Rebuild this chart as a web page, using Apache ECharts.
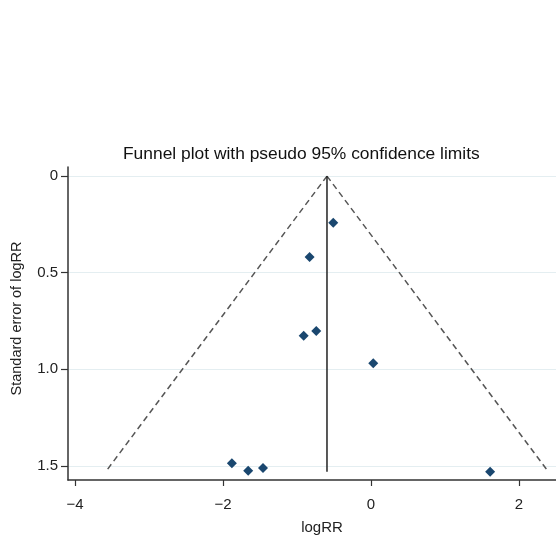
<!DOCTYPE html>
<html>
<head>
<meta charset="utf-8">
<script src="https://cdn.jsdelivr.net/npm/echarts@6/dist/echarts.min.js"></script>
<style>
  html, body { margin: 0; padding: 0; background: #fff; }
  #chart { width: 556px; height: 538px; }
</style>
</head>
<body>
<div id="chart"></div>
<script>
// study estimates
const studyLogRR = [-0.51, -0.83, -0.74, -0.91, 0.03, -1.88, -1.66, -1.46, 1.61];
const studySE = [0.242, 0.419, 0.802, 0.826, 0.969, 1.486, 1.525, 1.511, 1.530];

// pooled estimate and pseudo 95% limits (end points)
const pooledX = [-0.595, -0.595];
const pooledSE = [0, 1.53];
const lowerLimitX = [-0.595, -3.585];
const upperLimitX = [-0.595, 2.396];
const limitSE = [0, 1.53];

const xTicks = [-4, -2, 0, 2];
const yTicks = [0, 0.5, 1.0, 1.5];
const yTickLabels = ['0', '0.5', '1.0', '1.5'];

const toPairs = (xs, ys) => xs.map((x, i) => [x, ys[i]]);

const chart = echarts.init(document.getElementById('chart'));

const option = {
  animation: false,
  textStyle: { fontFamily: 'Liberation Sans, Arial, sans-serif' },
  title: {
    text: 'Funnel plot with pseudo 95% confidence limits',
    left: 118,
    top: 141,
    textStyle: { fontSize: 17.4, fontWeight: 'normal', color: '#111' }
  },
  grid: { left: 68, right: 0, top: 167, bottom: 58, outerBoundsMode: 'none' },
  xAxis: {
    type: 'value',
    min: -4.095,
    max: 2.5,
    name: 'logRR',
    nameLocation: 'middle',
    nameGap: 40,
    nameTextStyle: { fontSize: 15, color: '#222', padding: [0, 0, 0, 20] },
    axisLine: { show: true, onZero: false, lineStyle: { color: '#333', width: 1.5 } },
    axisTick: { show: true, length: 6, customValues: xTicks, lineStyle: { color: '#333', width: 1.2 } },
    axisLabel: {
      customValues: xTicks,
      fontSize: 15,
      color: '#222',
      margin: 17,
      formatter: v => (v < 0 ? '\u2212' + Math.abs(v) : String(v))
    },
    splitLine: { show: false }
  },
  yAxis: {
    type: 'value',
    inverse: true,
    min: -0.047,
    max: 1.573,
    name: 'Standard error of logRR',
    nameLocation: 'middle',
    nameGap: 44,
    nameTextStyle: { fontSize: 14.5, color: '#222', padding: [0, 0, 0, 10] },
    axisLine: { show: true, onZero: false, lineStyle: { color: '#333', width: 1.5 } },
    axisTick: { show: true, length: 7, customValues: yTicks, lineStyle: { color: '#333', width: 1.2 } },
    axisLabel: {
      customValues: yTicks,
      fontSize: 15,
      color: '#222',
      margin: 10,
      formatter: v => yTickLabels[yTicks.indexOf(v)] ?? ''
    },
    splitLine: { show: true, lineStyle: { color: '#e4eef1', width: 1.2 } }
  },
  series: [
    {
      name: 'lower',
      type: 'line',
      data: toPairs(lowerLimitX, limitSE),
      symbol: 'none',
      lineStyle: { color: '#555', width: 1.5, type: [6, 4] }
    },
    {
      name: 'upper',
      type: 'line',
      data: toPairs(upperLimitX, limitSE),
      symbol: 'none',
      lineStyle: { color: '#555', width: 1.5, type: [6, 4] }
    },
    {
      name: 'pooled',
      type: 'line',
      data: toPairs(pooledX, pooledSE),
      symbol: 'none',
      lineStyle: { color: '#222', width: 1.5 }
    },
    {
      name: 'studies',
      type: 'scatter',
      data: toPairs(studyLogRR, studySE),
      symbol: 'diamond',
      symbolSize: [10, 10],
      itemStyle: { color: '#1a476f', opacity: 1 }
    }
  ]
};

chart.setOption(option);
</script>
</body>
</html>
